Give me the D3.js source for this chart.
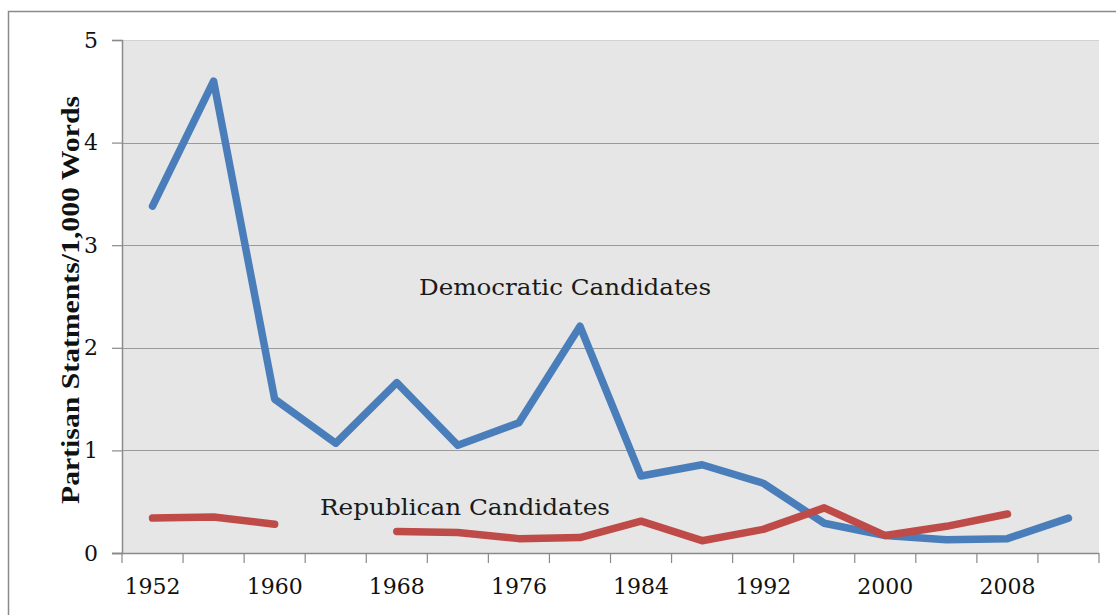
<!DOCTYPE html>
<html>
<head>
<meta charset="utf-8">
<script src="https://cdn.jsdelivr.net/npm/d3@7"></script>
<style>
  body { margin: 0; background: #fff; }
  svg { display: block; }
</style>
</head>
<body>
<div id="chart"></div>
<script>
// election years (categories)
const years = [1952, 1956, 1960, 1964, 1968, 1972, 1976, 1980,
  1984, 1988, 1992, 1996, 2000, 2004, 2008, 2012];

// partisan statements per 1,000 words
const democratic = [3.38, 4.6, 1.5, 1.07, 1.66, 1.05, 1.27, 2.21,
  0.75, 0.86, 0.68, 0.29, 0.17, 0.13, 0.14, 0.34];
const republican = [0.34, 0.35, 0.28, null, 0.21, 0.2, 0.14, 0.15,
  0.31, 0.12, 0.23, 0.44, 0.17, 0.26, 0.38, null];

const yTicks = [0, 1, 2, 3, 4, 5];
const xLabels = [1952, 1960, 1968, 1976, 1984, 1992, 2000, 2008];

const width = 1116, height = 615;
const plot = { left: 122, right: 1099, top: 40, bottom: 553 };

const svg = d3.select("#chart").append("svg")
  .attr("width", width)
  .attr("height", height);

// outer chart frame
svg.append("rect")
  .attr("x", 8.5).attr("y", 11.5)
  .attr("width", 1130).attr("height", 640)
  .attr("fill", "none")
  .attr("stroke", "#8a8a8a")
  .attr("stroke-width", 1.5);

const x = d3.scaleBand().domain(years).range([plot.left, plot.right]);
const y = d3.scaleLinear().domain([0, 5]).range([plot.bottom, plot.top]);

// plot background
svg.append("rect")
  .attr("x", plot.left).attr("y", plot.top)
  .attr("width", plot.right - plot.left)
  .attr("height", plot.bottom - plot.top)
  .attr("fill", "#e6e6e6");

// gridlines
svg.append("g")
  .selectAll("line")
  .data(yTicks.filter((d) => d > 0))
  .join("line")
  .attr("x1", plot.left).attr("x2", plot.right)
  .attr("y1", (d) => Math.round(y(d)) + 0.5)
  .attr("y2", (d) => Math.round(y(d)) + 0.5)
  .attr("stroke", (d) => (d === 5 ? "#d2d2d2" : "#9a9a9a"))
  .attr("stroke-width", 1.2);

// y axis
const yAxis = svg.append("g")
  .attr("transform", `translate(${plot.left},0)`)
  .call(d3.axisLeft(y).tickValues(yTicks).tickSize(10).tickPadding(14)
    .tickFormat(d3.format("d")));
yAxis.select(".domain").attr("stroke", "#8a8a8a").attr("stroke-width", 1.5);
yAxis.selectAll(".tick line").attr("stroke", "#8a8a8a").attr("stroke-width", 1.2);
yAxis.selectAll("text")
  .attr("font-family", "'DejaVu Serif', serif")
  .attr("font-size", 22)
  .attr("fill", "#111");

// x axis line + tick marks at category boundaries
const bounds = years.map((d) => x(d)).concat([plot.right]);
const xg = svg.append("g");
xg.append("line")
  .attr("x1", plot.left - 10).attr("x2", plot.right)
  .attr("y1", plot.bottom + 0.5).attr("y2", plot.bottom + 0.5)
  .attr("stroke", "#8a8a8a").attr("stroke-width", 1.5);
xg.selectAll("line.tick")
  .data(bounds)
  .join("line")
  .attr("class", "tick")
  .attr("x1", (d) => d).attr("x2", (d) => d)
  .attr("y1", plot.bottom).attr("y2", plot.bottom + 10)
  .attr("stroke", "#8a8a8a").attr("stroke-width", 1.2);

// x labels every other category
const xAxis = svg.append("g")
  .attr("transform", `translate(0,${plot.bottom})`)
  .call(d3.axisBottom(x).tickValues(xLabels).tickSize(0).tickPadding(25));
xAxis.select(".domain").remove();
xAxis.selectAll("text")
  .attr("font-family", "'DejaVu Serif', serif")
  .attr("font-size", 22)
  .attr("fill", "#111");

// y axis title
svg.append("text")
  .attr("transform", `translate(79,${(95 + 505) / 2}) rotate(-90)`)
  .attr("text-anchor", "middle")
  .attr("font-family", "'Liberation Serif', serif")
  .attr("font-weight", "bold")
  .attr("font-size", 25)
  .attr("textLength", 408)
  .attr("lengthAdjust", "spacingAndGlyphs")
  .attr("fill", "#111")
  .text("Partisan Statments/1,000 Words");

// lines
const line = d3.line()
  .defined((d) => d != null)
  .x((d, i) => x(years[i]) + x.bandwidth() / 2)
  .y((d) => y(d));

const series = [
  { values: democratic, color: "#4a7ebb" },
  { values: republican, color: "#be4b48" },
];

svg.append("g")
  .selectAll("path")
  .data(series)
  .join("path")
  .attr("d", (d) => line(d.values))
  .attr("fill", "none")
  .attr("stroke", (d) => d.color)
  .attr("stroke-width", 7.5)
  .attr("stroke-linejoin", "round")
  .attr("stroke-linecap", "round");

// series labels
svg.append("text")
  .attr("x", 419).attr("y", 295)
  .attr("font-family", "'DejaVu Serif', serif")
  .attr("font-size", 23)
  .attr("textLength", 292)
  .attr("lengthAdjust", "spacingAndGlyphs")
  .attr("fill", "#1a1a1a")
  .text("Democratic Candidates");

svg.append("text")
  .attr("x", 320).attr("y", 515)
  .attr("font-family", "'DejaVu Serif', serif")
  .attr("font-size", 23)
  .attr("textLength", 290)
  .attr("lengthAdjust", "spacingAndGlyphs")
  .attr("fill", "#1a1a1a")
  .text("Republican Candidates");
</script>
</body>
</html>
